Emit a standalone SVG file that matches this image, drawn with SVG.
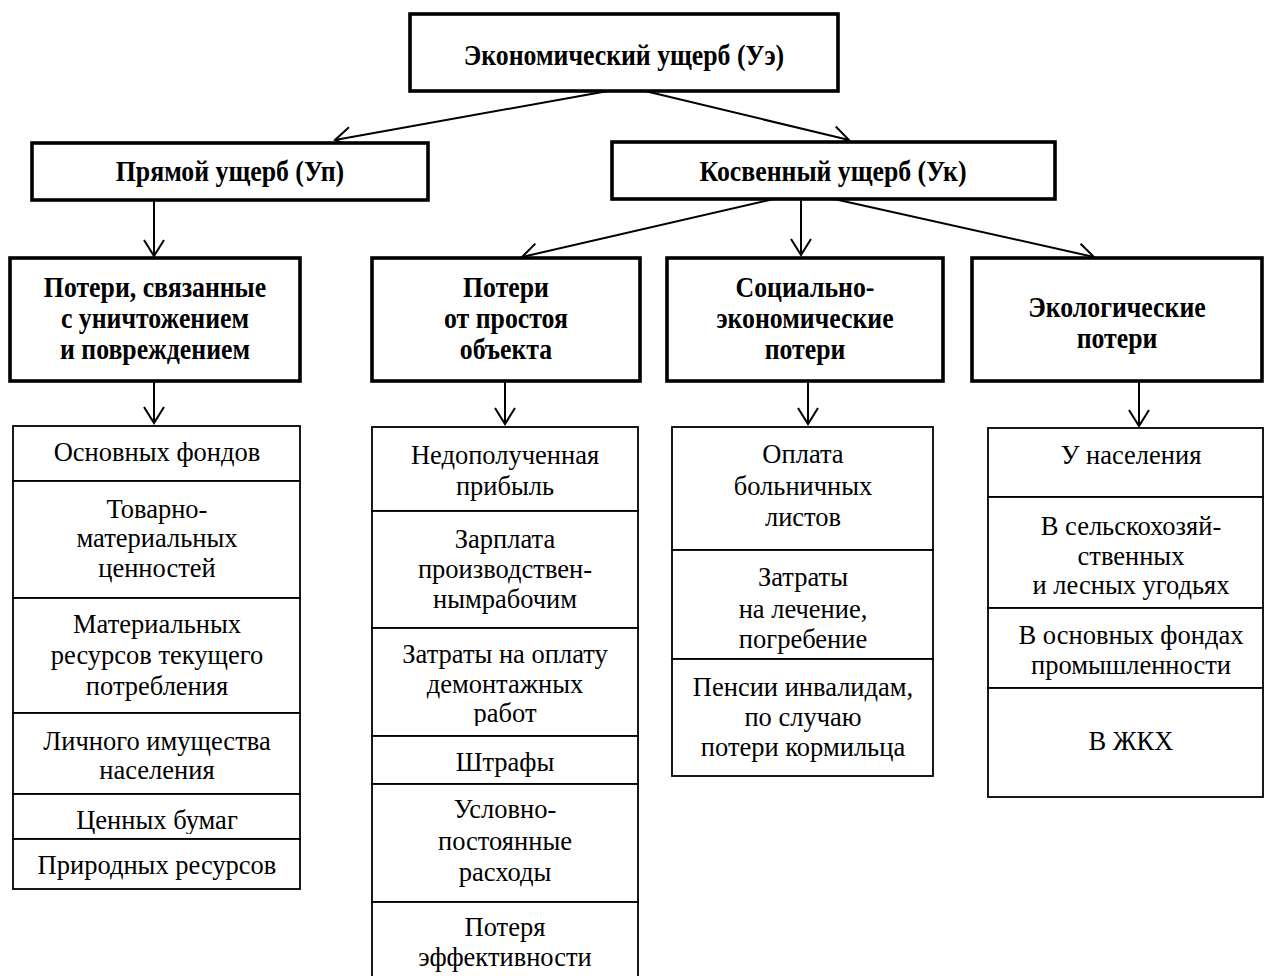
<svg xmlns="http://www.w3.org/2000/svg" width="1266" height="976" viewBox="0 0 1266 976">
<style>
.thick{fill:#fff;stroke:#000;stroke-width:3.6}
.cell{fill:#fff;stroke:#000;stroke-width:1.8}
.h{font-family:"Liberation Serif","Times New Roman",serif;font-weight:bold;font-size:25.8px;text-anchor:middle;fill:#000}
.t{font-family:"Liberation Serif","Times New Roman",serif;font-size:26.5px;text-anchor:middle;fill:#000}
.conn line{stroke:#000;stroke-width:2;marker-end:url(#ah)}
</style>
<defs>
<marker id="ah" markerUnits="userSpaceOnUse" markerWidth="24" markerHeight="26" refX="17" refY="11" orient="auto">
<path d="M1,1 L17,11 L1,21" fill="none" stroke="#000" stroke-width="2"/>
</marker>
<clipPath id="clip-rabot"><rect x="372" y="690" width="266" height="36"/></clipPath>
<clipPath id="clip-bumag"><rect x="13" y="795" width="287" height="39"/></clipPath>
</defs>
<rect width="1266" height="976" fill="#fff"/>

<g id="connectors" class="conn">
<line x1="608" y1="91" x2="335" y2="140"/>
<line x1="645" y1="91" x2="849" y2="140"/>
<line x1="154" y1="200" x2="154" y2="256"/>
<line x1="774" y1="199" x2="522" y2="257"/>
<line x1="801" y1="199" x2="801" y2="255"/>
<line x1="834" y1="199" x2="1094" y2="257"/>
<line x1="154" y1="381" x2="154" y2="423"/>
<line x1="505" y1="381" x2="505" y2="424"/>
<line x1="808" y1="381" x2="808" y2="424"/>
<line x1="1139" y1="381" x2="1139" y2="426"/>
</g>

<g id="n-econ">
<rect class="thick" x="410" y="14" width="428" height="77"/>
<text class="h" transform="translate(624,65) scale(1,1.1)">Экономический ущерб (Уэ)</text>
</g>
<g id="n-direct">
<rect class="thick" x="32" y="143" width="396" height="57"/>
<text class="h" transform="translate(230,181) scale(1,1.1)">Прямой ущерб (Уп)</text>
</g>
<g id="n-indirect">
<rect class="thick" x="612" y="142" width="443" height="57"/>
<text class="h" transform="translate(833,181) scale(1,1.1)">Косвенный ущерб (Ук)</text>
</g>

<g id="n-destroy">
<rect class="thick" x="10" y="258" width="290" height="123"/>
<text class="h" transform="translate(155,297) scale(1,1.1)">Потери, связанные</text>
<text class="h" transform="translate(155,328) scale(1,1.1)">с уничтожением</text>
<text class="h" transform="translate(155,359) scale(1,1.1)">и повреждением</text>
</g>
<g id="n-downtime">
<rect class="thick" x="372" y="258" width="268" height="123"/>
<text class="h" transform="translate(506,297) scale(1,1.1)">Потери</text>
<text class="h" transform="translate(506,328) scale(1,1.1)">от простоя</text>
<text class="h" transform="translate(506,359) scale(1,1.1)">объекта</text>
</g>
<g id="n-social">
<rect class="thick" x="667" y="258" width="276" height="123"/>
<text class="h" transform="translate(805,297) scale(1,1.1)">Социально-</text>
<text class="h" transform="translate(805,328) scale(1,1.1)">экономические</text>
<text class="h" transform="translate(805,359) scale(1,1.1)">потери</text>
</g>
<g id="n-eco">
<rect class="thick" x="972" y="258" width="290" height="123"/>
<text class="h" transform="translate(1117,317) scale(1,1.1)">Экологические</text>
<text class="h" transform="translate(1117,348) scale(1,1.1)">потери</text>
</g>

<g id="list-destroy">
<rect class="cell" x="13" y="426" width="287" height="55"/>
<text class="t" x="157" y="461">Основных фондов</text>
<rect class="cell" x="13" y="481" width="287" height="117"/>
<text class="t" x="157" y="518">Товарно-</text>
<text class="t" x="157" y="547">материальных</text>
<text class="t" x="157" y="577">ценностей</text>
<rect class="cell" x="13" y="598" width="287" height="115"/>
<text class="t" x="157" y="633">Материальных</text>
<text class="t" x="157" y="664">ресурсов текущего</text>
<text class="t" x="157" y="695">потребления</text>
<rect class="cell" x="13" y="713" width="287" height="81"/>
<text class="t" x="157" y="750">Личного имущества</text>
<text class="t" x="157" y="779">населения</text>
<rect class="cell" x="13" y="794" width="287" height="45"/>
<text class="t" x="157" y="829" clip-path="url(#clip-bumag)">Ценных бумаг</text>
<rect class="cell" x="13" y="839" width="287" height="50"/>
<text class="t" x="157" y="874">Природных ресурсов</text>
</g>

<g id="list-downtime">
<rect class="cell" x="372" y="427" width="266" height="84"/>
<text class="t" x="505" y="464">Недополученная</text>
<text class="t" x="505" y="495">прибыль</text>
<rect class="cell" x="372" y="511" width="266" height="117"/>
<text class="t" x="505" y="548">Зарплата</text>
<text class="t" x="505" y="578">производствен-</text>
<text class="t" x="505" y="608">нымрабочим</text>
<rect class="cell" x="372" y="628" width="266" height="108"/>
<text class="t" x="505" y="663">Затраты на оплату</text>
<text class="t" x="505" y="693">демонтажных</text>
<text class="t" x="505" y="722" clip-path="url(#clip-rabot)">работ</text>
<rect class="cell" x="372" y="736" width="266" height="48"/>
<text class="t" x="505" y="771">Штрафы</text>
<rect class="cell" x="372" y="784" width="266" height="118"/>
<text class="t" x="505" y="818">Условно-</text>
<text class="t" x="505" y="850">постоянные</text>
<text class="t" x="505" y="881">расходы</text>
<rect class="cell" x="372" y="902" width="266" height="100"/>
<text class="t" x="505" y="936">Потеря</text>
<text class="t" x="505" y="966">эффективности</text>
</g>

<g id="list-social">
<rect class="cell" x="672" y="427" width="261" height="123"/>
<text class="t" x="803" y="463">Оплата</text>
<text class="t" x="803" y="495">больничных</text>
<text class="t" x="803" y="526">листов</text>
<rect class="cell" x="672" y="550" width="261" height="109"/>
<text class="t" x="803" y="586">Затраты</text>
<text class="t" x="803" y="618">на лечение,</text>
<text class="t" x="803" y="648">погребение</text>
<rect class="cell" x="672" y="659" width="261" height="117"/>
<text class="t" x="803" y="696">Пенсии инвалидам,</text>
<text class="t" x="803" y="726">по случаю</text>
<text class="t" x="803" y="756">потери кормильца</text>
</g>

<g id="list-eco">
<rect class="cell" x="988" y="428" width="275" height="69"/>
<text class="t" x="1131" y="464">У населения</text>
<rect class="cell" x="988" y="497" width="275" height="111"/>
<text class="t" x="1131" y="535">В сельскохозяй-</text>
<text class="t" x="1131" y="565">ственных</text>
<text class="t" x="1131" y="594">и лесных угодьях</text>
<rect class="cell" x="988" y="608" width="275" height="80"/>
<text class="t" x="1131" y="644">В основных фондах</text>
<text class="t" x="1131" y="674">промышленности</text>
<rect class="cell" x="988" y="688" width="275" height="109"/>
<text class="t" x="1131" y="750">В ЖКХ</text>
</g>
</svg>
